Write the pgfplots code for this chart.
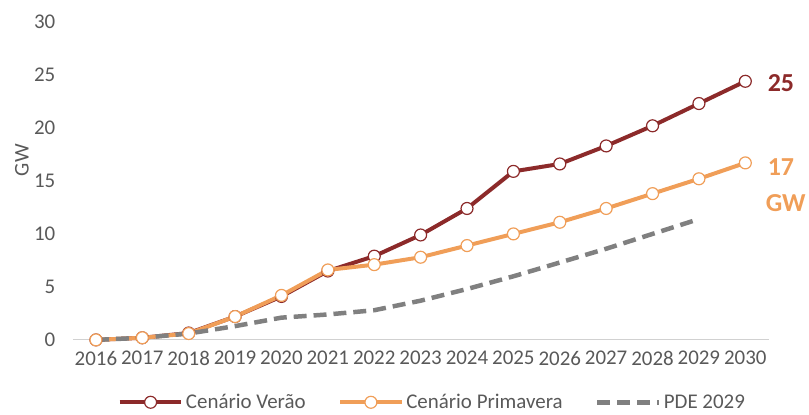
\documentclass[border=0pt]{standalone}
\usepackage{fontspec}
\setmainfont{Carlito}
\usepackage{pgfplots}
\pgfplotsset{compat=1.18}
\definecolor{verao}{RGB}{140,42,42}
\definecolor{prima}{RGB}{240,158,88}
\definecolor{pde}{RGB}{128,128,128}
\definecolor{txt}{RGB}{89,89,89}
\begin{document}
\begin{tikzpicture}
\begin{axis}[
  scale only axis,
  width=698pt, height=319pt,
  xmin=2015.5, xmax=2030.5,
  ymin=0, ymax=30,
  xtick={2016,...,2030},
  ytick={0,5,...,30},
  xticklabel style={/pgf/number format/1000 sep={}},
  /pgf/number format/assume math mode=true,
  tick label style={font=\fontsize{21}{23}\selectfont, text=txt},
  axis x line=bottom,
  axis y line=left,
  x axis line style={draw=black!18, line width=1.2pt, -},
  y axis line style={draw=none},
  major tick length=0pt,
  xticklabel style={yshift=-8pt},
  yticklabel style={xshift=-14pt},
  ylabel={GW},
  every axis y label/.style={at={(rel axis cs:0,0.565)}, xshift=-51pt, rotate=90, anchor=center,
    font=\fontsize{21}{23}\selectfont, text=txt},
  clip=false,
  legend columns=3,
  legend style={at={(rel axis cs:0.06,-0.158)}, anchor=north west, draw=none, fill=none,
    font=\fontsize{21}{23}\selectfont, text=txt,
    nodes={inner xsep=2.5pt},
    /tikz/every even column/.append style={column sep=30pt}},
  legend cell align=left,
  legend image code/.code={\draw[mark repeat=2,mark phase=2,#1] plot coordinates {(0pt,0pt) (31pt,0pt) (62pt,0pt)};},
]
\addplot[color=verao, line width=4pt, mark=*, mark size=6pt,
  mark options={fill=white, draw=verao, line width=1.2pt, solid}]
  coordinates {(2016,0) (2017,0.2) (2018,0.65) (2019,2.2) (2020,4.1) (2021,6.5) (2022,7.9) (2023,9.9) (2024,12.4) (2025,15.9) (2026,16.6) (2027,18.3) (2028,20.2) (2029,22.3) (2030,24.4)};
\addlegendentry{Cenário Verão}
\addplot[color=prima, line width=4pt, mark=*, mark size=6pt,
  mark options={fill=white, draw=prima, line width=1.2pt, solid}]
  coordinates {(2016,0) (2017,0.2) (2018,0.6) (2019,2.2) (2020,4.2) (2021,6.6) (2022,7.1) (2023,7.8) (2024,8.9) (2025,10.0) (2026,11.1) (2027,12.4) (2028,13.8) (2029,15.2) (2030,16.7)};
\addlegendentry{Cenário Primavera}
\addplot[color=pde, line width=4.5pt, dash pattern=on 13pt off 7pt, no marks]
  coordinates {(2016,0) (2017,0.2) (2018,0.6) (2019,1.3) (2020,2.1) (2021,2.4) (2022,2.8) (2023,3.7) (2024,4.8) (2025,6.0) (2026,7.3) (2027,8.6) (2028,10.0) (2029,11.4)};
\addlegendentry{PDE 2029}
\node[anchor=west, text=verao, font=\fontsize{26}{28}\bfseries] at (axis cs:2030,24.2) [xshift=19pt] {25};
\node[anchor=west, text=prima, font=\fontsize{26}{28}\bfseries] at (axis cs:2030,16.3) [xshift=19pt] {17};
\node[anchor=west, text=prima, font=\fontsize{26}{28}\bfseries] at (axis cs:2030,12.9) [xshift=17pt] {GW};
\path (rel axis cs:0,0) ++(-73pt,-73pt) coordinate (bl);
\path (rel axis cs:0,0) ++(736pt,341pt) coordinate (tr);
\end{axis}
\useasboundingbox (bl) rectangle (tr);
\end{tikzpicture}
\end{document}
